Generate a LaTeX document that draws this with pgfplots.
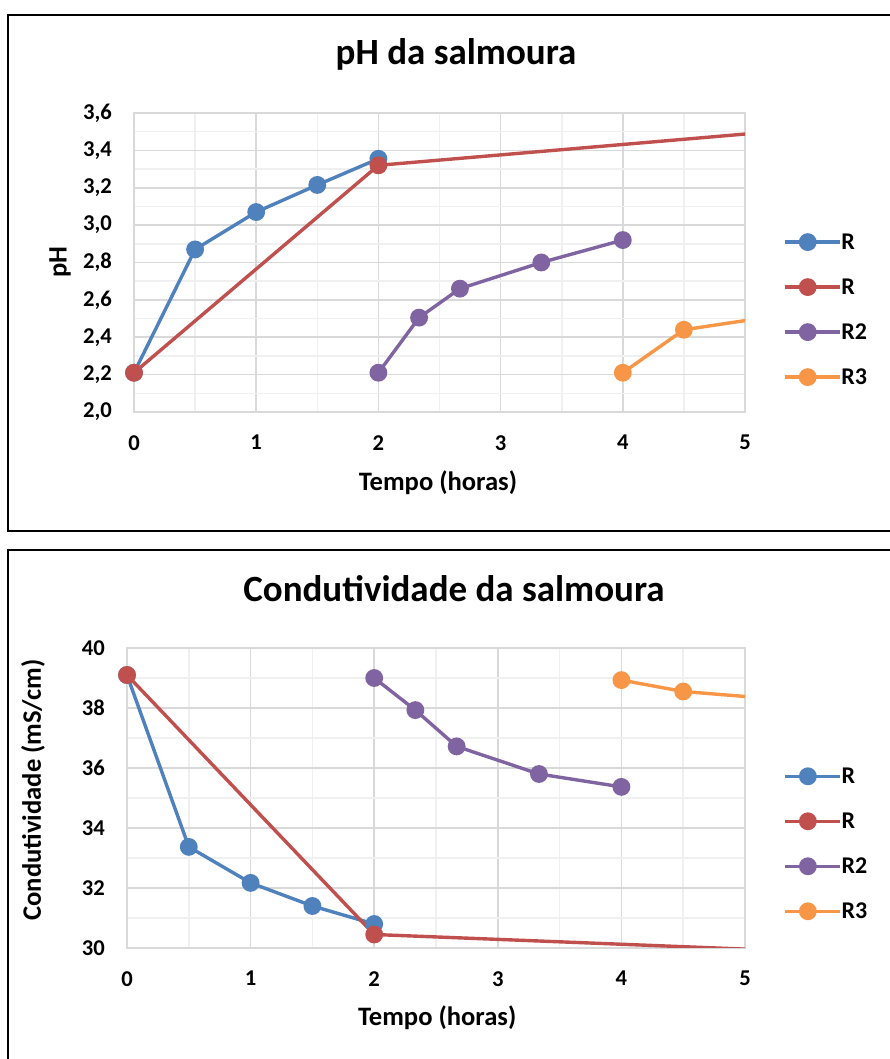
\documentclass[border=0pt]{standalone}
\usepackage{pgfplots}
\pgfplotsset{compat=1.18}
\usepackage{fontspec}
\setmainfont{Carlito}
\definecolor{cblue}{HTML}{4F81BD}
\definecolor{cred}{HTML}{C0504D}
\definecolor{cpurple}{HTML}{8064A2}
\definecolor{corange}{HTML}{F79646}
\definecolor{gmaj}{HTML}{D9D9D9}
\definecolor{gmin}{HTML}{F0F0F0}
\pgfplotsset{
  mystyle/.style={
    scale only axis,
    anchor=south west,
    xmin=0, xmax=5,
    xtick={0,1,2,3,4,5},
    minor x tick num=1,
    minor y tick num=1,
    grid=both,
    major grid style={gmaj, line width=1.6pt},
    minor grid style={gmin, line width=1.6pt},
    axis line style={gmaj, line width=2.4pt},
    major tick length=0pt, minor tick length=0pt,
    /pgf/number format/assume math mode=true,
    tick label style={font=\fontsize{22.6}{26}\selectfont\bfseries, inner sep=0pt},
    xticklabel shift=23pt,
    yticklabel shift=22pt,
    label style={font=\fontsize{26.6}{30}\selectfont\bfseries},
    title style={font=\fontsize{37}{42}\selectfont\bfseries, anchor=center},
    every axis plot/.append style={line width=3.4pt, mark=*, mark size=7.2pt, mark options={solid}},
    legend style={draw=none, fill=none, anchor=north west,
      font=\fontsize{24}{28}\selectfont\bfseries, row sep=25pt,
      nodes={inner sep=0pt, text height=17pt, text depth=3pt}},
    legend cell align=left,
    legend image code/.code={%
      \draw[mark indices={2}] plot coordinates {(0pt,0pt)(23pt,0pt)(46pt,0pt)};
      \path (0pt,0pt) -- (55pt,0pt);},
  }
}
\begin{document}
\begin{tikzpicture}
\path[use as bounding box] (0pt,0pt) rectangle (890pt,1059pt);
\draw[line width=2pt] (8pt,528pt) rectangle (905pt,1044pt);
\draw[line width=2pt] (8pt,-10pt) rectangle (905pt,509pt);
% ---------- top: pH ----------
\begin{axis}[mystyle,
  at={(134pt,647pt)},
  width=611pt, height=299pt,
  ymin=2.0, ymax=3.6, ytick={2.0,2.2,...,3.6},
  yticklabel style={/pgf/number format/.cd, use comma, fixed, fixed zerofill, precision=1},
  title={pH da salmoura},
  title style={at={(axis description cs:0.527,1.177)}},
  xlabel={Tempo (horas)},
  xlabel style={at={(axis description cs:0.4975,-0.237)}, anchor=center},
  ylabel={pH},
  ylabel style={at={(axis description cs:-0.121,0.502)}, anchor=center, rotate=0},
  legend style={at={(axis description cs:1.057,0.609)}},
]
\addplot[color=cblue] coordinates {(0,2.21) (0.5,2.87) (1,3.07) (1.5,3.215) (2,3.355)};
\addlegendentry{R}
\addplot[color=cred, mark indices={1,2}] coordinates {(0,2.21) (2,3.32) (6,3.543)};
\addlegendentry{R}
\addplot[color=cpurple] coordinates {(2,2.21) (2.333,2.505) (2.667,2.66) (3.333,2.80) (4,2.92)};
\addlegendentry{R2}
\addplot[color=corange, mark indices={1,2}] coordinates {(4,2.21) (4.5,2.44) (6,2.587)};
\addlegendentry{R3}
\end{axis}
% ---------- bottom: condutividade ----------
\begin{axis}[mystyle,
  at={(127pt,111pt)},
  width=618pt, height=300pt,
  ymin=30, ymax=40, ytick={30,32,...,40},
  title={Condutividade da salmoura},
  title style={at={(axis description cs:0.529,1.177)}},
  xlabel={Tempo (horas)},
  xlabel style={at={(axis description cs:0.502,-0.233)}, anchor=center},
  ylabel={Condutividade (mS/cm)},
  ylabel style={at={(axis description cs:-0.152,0.527)}, anchor=center},
  legend style={at={(axis description cs:1.0566,0.613)}},
]
\addplot[color=cblue] coordinates {(0,39.1) (0.5,33.37) (1,32.17) (1.5,31.4) (2,30.8)};
\addlegendentry{R}
\addplot[color=cred, mark indices={1,2}] coordinates {(0,39.1) (2,30.45) (6,29.8)};
\addlegendentry{R}
\addplot[color=cpurple] coordinates {(2,39.0) (2.333,37.93) (2.667,36.72) (3.333,35.8) (4,35.37)};
\addlegendentry{R2}
\addplot[color=corange, mark indices={1,2}] coordinates {(4,38.93) (4.5,38.55) (6,38.05)};
\addlegendentry{R3}
\end{axis}
\end{tikzpicture}
\end{document}
